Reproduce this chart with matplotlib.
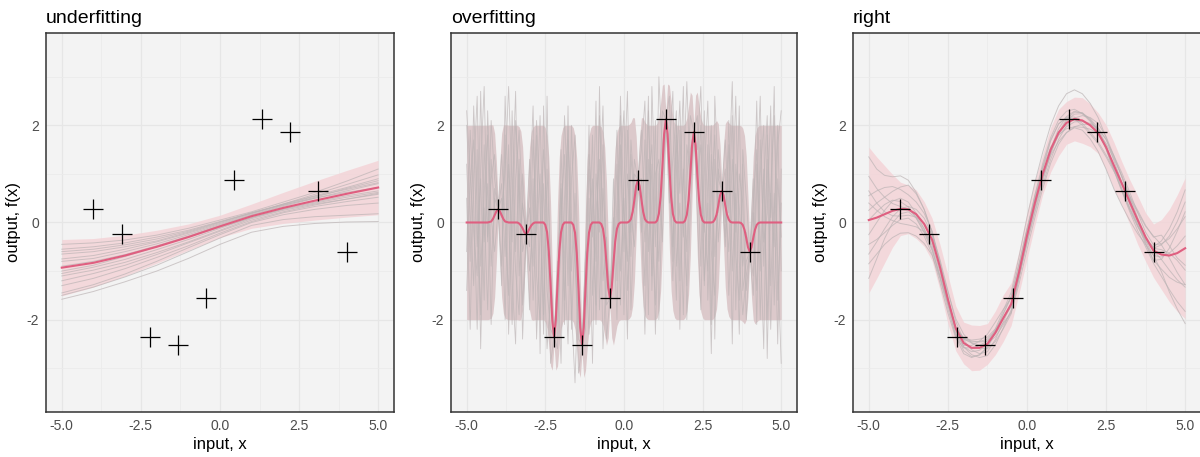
import numpy as np
import matplotlib
matplotlib.use("Agg")
import matplotlib.pyplot as plt

plt.rcParams['font.family'] = ['Liberation Sans', 'DejaVu Sans']
plt.rcParams['axes.unicode_minus'] = False

# observed training points
obs_x = [-4.0, -3.11, -2.22, -1.33, -0.44, 0.44, 1.33, 2.22, 3.11, 4.0]
obs_y = [0.27, -0.23, -2.35, -2.52, -1.56, 0.87, 2.12, 1.86, 0.65, -0.6]

panel_titles = ["underfitting", "overfitting", "right"]
x_ticks = [-5.0, -2.5, 0.0, 2.5, 5.0]
x_tick_labels = ["-5.0", "-2.5", "0.0", "2.5", "5.0"]
y_ticks = [-2, 0, 2]
y_tick_labels = ["-2", "0", "2"]

# ---- underfitting: long length scale, almost straight posterior
under_x = [-5, -4, -3, -2, -1, 0, 1, 2, 3, 4, 5]
under_mean = [-0.93, -0.83, -0.68, -0.5, -0.3, -0.08, 0.13, 0.3, 0.45, 0.59, 0.72]
under_band = [0.58, 0.5, 0.42, 0.34, 0.27, 0.23, 0.25, 0.32, 0.4, 0.48, 0.56]
under_samples = [
    [-0.55, -0.5, -0.42, -0.3, -0.16, 0.02, 0.2, 0.38, 0.55, 0.72, 0.9],
    [-1.3, -1.15, -0.95, -0.72, -0.48, -0.22, 0.02, 0.2, 0.33, 0.43, 0.52],
    [-0.75, -0.68, -0.55, -0.4, -0.22, -0.02, 0.18, 0.38, 0.58, 0.78, 0.98],
    [-1.1, -0.98, -0.82, -0.62, -0.4, -0.16, 0.08, 0.25, 0.38, 0.48, 0.58],
    [-0.45, -0.42, -0.36, -0.26, -0.12, 0.05, 0.22, 0.42, 0.62, 0.85, 1.1],
    [-1.45, -1.28, -1.06, -0.8, -0.52, -0.25, 0.0, 0.16, 0.27, 0.35, 0.4],
    [-0.9, -0.8, -0.66, -0.48, -0.28, -0.06, 0.15, 0.33, 0.5, 0.65, 0.8],
    [-1.0, -0.88, -0.7, -0.5, -0.3, -0.1, 0.1, 0.28, 0.42, 0.55, 0.65],
    [-0.65, -0.6, -0.5, -0.38, -0.2, 0.0, 0.2, 0.36, 0.5, 0.62, 0.72],
    [-1.2, -1.05, -0.88, -0.66, -0.42, -0.18, 0.05, 0.22, 0.36, 0.48, 0.6],
    [-0.8, -0.74, -0.6, -0.44, -0.25, -0.04, 0.16, 0.35, 0.52, 0.7, 0.86],
    [-1.05, -0.92, -0.76, -0.56, -0.35, -0.12, 0.1, 0.27, 0.4, 0.52, 0.62],
    [-0.6, -0.55, -0.46, -0.34, -0.18, 0.01, 0.19, 0.37, 0.54, 0.68, 0.82],
    [-1.58, -1.42, -1.22, -1.0, -0.74, -0.45, -0.2, -0.08, -0.02, 0.01, 0.02],
    [-1.5, -1.33, -1.12, -0.88, -0.6, -0.32, -0.06, 0.06, 0.12, 0.15, 0.18],
]

# ---- overfitting: tiny length scale, mean falls back to zero between points
over_x = np.linspace(-5, 5, 181)
over_mean = ([0.0] * 13
             + [0.01, 0.02, 0.07, 0.15, 0.23, 0.27, 0.23, 0.15, 0.07, 0.02, 0.01] + [0.0] * 5
             + [0.0, -0.02, -0.06, -0.12, -0.2, -0.23, -0.2, -0.12, -0.06, -0.02, 0.0] + [0.0] * 5
             + [-0.05, -0.2, -0.59, -1.27, -2.01, -2.35, -2.01, -1.27, -0.59, -0.2, -0.05] + [0.0] * 5
             + [-0.05, -0.21, -0.63, -1.36, -2.16, -2.52, -2.16, -1.36, -0.63, -0.21, -0.05] + [0.0] * 5
             + [-0.03, -0.13, -0.39, -0.84, -1.34, -1.56, -1.34, -0.84, -0.39, -0.13, -0.03] + [0.0] * 5
             + [0.02, 0.07, 0.22, 0.47, 0.75, 0.87, 0.75, 0.47, 0.22, 0.07, 0.02] + [0.0] * 5
             + [0.04, 0.18, 0.53, 1.14, 1.82, 2.12, 1.82, 1.14, 0.53, 0.18, 0.04] + [0.0] * 5
             + [0.04, 0.16, 0.46, 1.0, 1.59, 1.86, 1.59, 1.0, 0.46, 0.16, 0.04] + [0.0] * 5
             + [0.01, 0.06, 0.16, 0.35, 0.56, 0.65, 0.56, 0.35, 0.16, 0.06, 0.01] + [0.0] * 5
             + [-0.01, -0.05, -0.15, -0.32, -0.51, -0.6, -0.51, -0.32, -0.15, -0.05, -0.01]
             + [0.0] * 13)
# posterior sd around one training point
over_pinch = [1.0, 0.996, 0.969, 0.842, 0.515, 0.08, 0.515, 0.842, 0.969, 0.996, 1.0]
over_sd = [1.0] * 13 + (over_pinch + [1.0] * 5) * 9 + over_pinch + [1.0] * 13

over_sample_x = np.linspace(-5, 5, 91)
over_samples = [
    [1.2, -0.8, 2.4, 0.3, -1.9, 1.6, -0.4, 2.1, 0.9, 0.27,
     -0.9, 1.8, -2.3, 0.6, 2.7, -1.1, 0.4, -0.23,
     1.3, -1.6, 0.2, 2.2, -0.7, -2.6, -1.5, -2.35,
     -1.2, 0.8, -2.1, 1.7, 0.1, -0.9, -2.0, -2.52,
     -1.4, 1.1, -0.3, 2.5, -1.8, 0.7, -0.6, -1.56,
     -0.2, 1.9, -1.0, 0.5, -2.4, 1.4, 0.3, 0.87,
     0.6, -1.3, 2.3, 0.0, -1.7, 1.0, 1.6, 2.12,
     1.0, -0.5, 1.8, -2.2, 0.9, 2.9, 0.8, 1.86,
     0.7, 2.0, -1.2, 0.4, -2.7, 1.3, 0.2, 0.65,
     1.1, -1.5, 0.3, 2.6, -0.8, -1.9, -1.1, -0.6,
     0.4, 1.5, -2.0, 0.8, 2.2, -1.3, 0.6, -2.5, 1.1],
    [-0.6, 1.9, 0.4, -2.2, 1.1, 2.8, -0.3, 0.9, 1.4, 0.27,
     0.5, -2.0, 1.2, -0.4, 2.1, 0.8, -1.7, -0.23,
     -1.8, 0.9, -2.4, -0.2, 1.5, 0.3, -2.9, -2.35,
     -2.6, 0.2, 1.4, -1.3, 2.0, -0.5, -3.1, -2.52,
     -1.9, -0.4, 1.8, -2.1, 0.6, 2.4, -0.9, -1.56,
     0.9, -1.2, 2.6, 0.2, -0.8, 1.7, 0.6, 0.87,
     1.5, 2.5, -0.6, 1.2, -2.3, 0.4, 2.3, 2.12,
     2.6, 0.3, -1.6, 1.9, -0.3, 0.8, 2.2, 1.86,
     1.2, -0.9, 2.3, -1.6, 0.5, 1.8, -0.4, 0.65,
     -0.3, 2.1, -1.0, 0.6, -2.3, 1.2, -1.4, -0.6,
     -1.5, 0.7, 2.6, -0.9, 1.3, -2.2, 0.2, 2.0, -1.0],
    [2.0, 0.2, -1.3, 1.5, -2.6, 0.6, 1.8, -0.9, 0.5, 0.27,
     1.4, 0.0, -1.5, 2.3, -0.6, 1.0, -2.4, -0.23,
     0.6, 2.4, -1.1, -2.0, 0.8, -1.4, -2.2, -2.35,
     -0.8, -2.9, 0.5, 1.9, -1.0, 0.6, -1.6, -2.52,
     -0.7, 2.0, -1.5, 0.2, 1.3, -2.6, -1.0, -1.56,
     -1.1, 0.4, 2.2, -1.9, 1.0, -0.2, 1.3, 0.87,
     -0.2, 1.7, -1.9, 2.8, 0.5, -0.8, 1.1, 2.12,
     1.5, 2.7, -0.9, 0.4, -1.9, 1.6, 0.9, 1.86,
     0.2, -1.8, 1.0, 2.5, -0.6, -1.5, 1.1, 0.65,
     0.0, 1.6, -2.5, 1.2, 0.3, -0.9, -0.2, -0.6,
     0.9, -2.1, 1.7, -0.4, 0.2, 2.4, -1.7, 0.9, -0.3],
    [-1.4, 0.8, 1.7, -0.5, 0.9, -1.6, 2.3, 0.1, -0.6, 0.27,
     -1.3, 2.6, 0.1, -2.1, 0.9, 1.9, 0.3, -0.23,
     0.3, -0.9, 1.8, -2.7, 2.4, -0.6, -1.1, -2.35,
     -1.7, 1.5, -0.7, -2.5, 0.9, 1.8, -1.4, -2.52,
     -2.2, 0.5, -2.9, 1.0, -0.2, 1.6, -1.7, -1.56,
     0.1, -2.0, 1.1, 2.3, -1.4, 0.2, -0.5, 0.87,
     0.9, -0.4, 1.3, -1.1, 2.1, -2.0, 0.7, 2.12,
     0.4, 1.3, 2.3, -1.2, 1.1, -0.6, 1.5, 1.86,
     2.2, 0.4, -0.2, 1.6, -2.1, 2.6, 0.9, 0.65,
     1.7, 0.2, 2.2, -1.8, 1.0, 0.4, -2.0, -0.6,
     -1.1, 1.2, -0.3, -2.6, 1.8, 0.1, 2.8, -1.6, 0.4],
    [0.5, -2.2, 1.0, 2.6, -0.9, 0.3, -1.8, 1.3, 0.2, 0.27,
     0.8, -0.7, 1.6, -1.2, -2.5, 1.3, -0.6, -0.23,
     -0.5, 1.7, -0.2, 1.0, -1.9, 2.6, -1.6, -2.35,
     -2.0, -0.4, 2.2, 0.3, -1.8, -3.3, -1.1, -2.52,
     -0.6, -2.3, 0.9, -0.8, 2.2, 0.1, -2.4, -1.56,
     -0.6, 1.2, -1.7, 0.8, 2.7, -0.7, 1.0, 0.87,
     0.2, -2.3, 0.8, 1.6, -0.5, 3.0, 1.4, 2.12,
     0.8, -1.2, 1.0, 2.5, 0.0, -1.3, 1.2, 1.86,
     1.5, 2.8, 0.0, -1.0, 1.4, -0.7, 0.6, 0.65,
     0.4, -0.6, 1.3, -0.2, 2.4, -1.4, -0.8, -0.6,
     0.2, -1.4, 1.0, 2.0, -2.8, 0.6, -0.5, 1.6, 2.3],
    [2.3, 1.0, -0.2, -1.1, 2.7, -0.4, 0.8, -2.1, 0.7, 0.27,
     0.1, 1.1, 2.8, 0.7, -1.0, -1.9, 1.0, -0.23,
     -1.0, -0.1, 2.1, 0.4, -2.3, 1.1, -0.8, -2.35,
     -1.3, 0.7, -1.6, 2.4, -2.2, -0.2, -2.4, -2.52,
     -1.1, 1.4, 0.3, -1.7, 2.8, -1.2, -0.3, -1.56,
     -0.9, -0.1, 1.6, -0.6, 1.9, -1.8, 0.2, 0.87,
     1.9, 0.0, 2.6, -1.4, 1.0, 1.3, -0.4, 2.12,
     1.9, -0.8, 2.1, 0.6, 2.8, -2.0, 0.3, 1.86,
     0.9, 1.6, -1.3, 0.8, 2.0, -2.4, 1.5, 0.65,
     -0.5, 0.9, 2.9, -0.7, -1.6, 1.5, 0.5, -0.6,
     -0.2, 2.5, -1.0, 1.1, -2.0, 0.7, 2.2, -0.8, -2.9],
]

# ---- right: sensible length scale
right_x = np.linspace(-5, 5, 41)
right_mean = [0.05, 0.10, 0.17, 0.24, 0.28, 0.27, 0.17, -0.03, -0.35, -0.92,
              -1.58, -2.18, -2.48, -2.58, -2.58, -2.5, -2.27, -1.97, -1.68, -1.02,
              -0.28, 0.4, 1.0, 1.5, 1.85, 2.05, 2.13, 2.1, 2.0, 1.84,
              1.55, 1.17, 0.8, 0.42, 0.05, -0.3, -0.58, -0.66, -0.68, -0.63,
              -0.53]
right_band = [1.5, 1.25, 1.0, 0.75, 0.55, 0.5, 0.5, 0.46, 0.44, 0.47,
              0.5, 0.46, 0.43, 0.47, 0.46, 0.42, 0.45, 0.48, 0.44, 0.44,
              0.48, 0.46, 0.42, 0.46, 0.48, 0.44, 0.45, 0.47, 0.44, 0.42,
              0.46, 0.48, 0.45, 0.46, 0.5, 0.5, 0.55, 0.72, 0.95, 1.2,
              1.45]
# sample paths stored as residuals around the posterior mean
right_resid = [
    [0.9, 0.6, 0.35, 0.15, 0.05, 0.0, -0.05, -0.1, -0.12, -0.1, -0.05, 0.02, 0.08, 0.12,
     0.13, 0.1, 0.05, 0.0, -0.05, -0.08, -0.1, -0.08, -0.04, 0.02, 0.08, 0.13, 0.16, 0.15,
     0.1, 0.04, -0.02, -0.08, -0.12, -0.14, -0.12, -0.05, 0.05, 0.2, 0.4, 0.65, 0.95],
    [-1.2, -0.85, -0.5, -0.25, -0.1, -0.05, -0.08, -0.15, -0.2, -0.18, -0.1, 0.0, 0.1, 0.16,
     0.18, 0.14, 0.08, 0.02, -0.04, -0.1, -0.14, -0.16, -0.14, -0.08, 0.0, 0.08, 0.14, 0.16,
     0.12, 0.05, -0.03, -0.1, -0.16, -0.2, -0.22, -0.2, -0.26, -0.45, -0.7, -1.0, -1.3],
    [0.2, 0.3, 0.35, 0.4, 0.45, 0.5, 0.42, 0.3, 0.15, 0.02, -0.1, -0.18, -0.22, -0.2,
     -0.14, -0.06, 0.02, 0.1, 0.16, 0.18, 0.15, 0.1, 0.04, -0.02, -0.06, -0.08, -0.06, -0.02,
     0.04, 0.1, 0.16, 0.2, 0.22, 0.2, 0.15, 0.1, 0.12, 0.22, 0.35, 0.5, 0.65],
    [-0.5, -0.45, -0.38, -0.3, -0.22, -0.18, -0.2, -0.25, -0.3, -0.32, -0.28, -0.2, -0.1, 0.0,
     0.05, 0.06, 0.04, 0.0, -0.05, -0.1, -0.15, -0.2, -0.22, -0.2, -0.14, -0.06, 0.02, 0.1,
     0.16, 0.2, 0.22, 0.2, 0.14, 0.06, -0.02, -0.08, -0.1, -0.05, 0.05, 0.15, 0.25],
    [0.5, 0.55, 0.55, 0.5, 0.4, 0.3, 0.25, 0.22, 0.18, 0.12, 0.05, -0.02, -0.08, -0.14,
     -0.2, -0.24, -0.25, -0.2, -0.12, -0.02, 0.08, 0.16, 0.22, 0.25, 0.26, 0.24, 0.2, 0.14,
     0.08, 0.02, -0.04, -0.1, -0.14, -0.16, -0.14, -0.08, 0.0, -0.1, -0.3, -0.55, -0.8],
    [-0.3, -0.1, 0.08, 0.2, 0.22, 0.15, 0.02, -0.1, -0.18, -0.22, -0.2, -0.14, -0.05, 0.05,
     0.14, 0.2, 0.22, 0.18, 0.12, 0.05, -0.02, -0.08, -0.1, -0.08, -0.03, 0.04, 0.1, 0.14,
     0.14, 0.1, 0.04, -0.04, -0.1, -0.12, -0.1, -0.04, 0.08, 0.28, 0.55, 0.85, 1.2],
    [1.3, 1.0, 0.8, 0.7, 0.68, 0.6, 0.45, 0.3, 0.15, 0.05, 0.0, -0.05, -0.08, -0.08,
     -0.05, 0.0, 0.08, 0.16, 0.24, 0.32, 0.38, 0.42, 0.45, 0.5, 0.55, 0.6, 0.6, 0.55,
     0.45, 0.32, 0.2, 0.1, 0.02, -0.05, -0.1, -0.15, -0.2, -0.3, -0.45, -0.6, -0.75],
    [-0.9, -0.75, -0.62, -0.55, -0.5, -0.48, -0.45, -0.4, -0.32, -0.22, -0.1, 0.02, 0.1, 0.14,
     0.12, 0.06, -0.02, -0.1, -0.18, -0.24, -0.28, -0.3, -0.3, -0.28, -0.24, -0.2, -0.18, -0.2,
     -0.28, -0.38, -0.45, -0.48, -0.45, -0.38, -0.28, -0.15, -0.1, -0.35, -0.75, -1.15, -1.55],
    [0.0, 0.12, 0.2, 0.22, 0.15, 0.05, -0.08, -0.18, -0.22, -0.18, -0.1, 0.0, 0.08, 0.1,
     0.06, 0.0, -0.08, -0.14, -0.16, -0.12, -0.05, 0.04, 0.12, 0.18, 0.18, 0.12, 0.04, -0.06,
     -0.14, -0.18, -0.16, -0.08, 0.02, 0.12, 0.2, 0.24, 0.28, 0.4, 0.2, -0.1, -0.35],
    [0.6, 0.3, 0.05, -0.1, -0.15, -0.12, -0.06, 0.02, 0.1, 0.16, 0.18, 0.14, 0.06, -0.04,
     -0.12, -0.16, -0.14, -0.08, 0.0, 0.08, 0.14, 0.16, 0.12, 0.05, -0.04, -0.12, -0.16, -0.14,
     -0.08, 0.0, 0.08, 0.14, 0.16, 0.12, 0.05, 0.0, 0.05, 0.1, 0.05, -0.15, -0.45],
    [-0.7, -0.5, -0.3, -0.12, 0.0, 0.06, 0.1, 0.12, 0.1, 0.05, -0.02, -0.1, -0.16, -0.18,
     -0.15, -0.08, 0.0, 0.08, 0.14, 0.16, 0.12, 0.04, -0.05, -0.12, -0.18, -0.2, -0.16, -0.08,
     0.02, 0.1, 0.16, 0.18, 0.14, 0.06, -0.04, -0.12, -0.2, -0.1, 0.15, 0.45, 0.75],
    [0.35, 0.15, -0.05, -0.2, -0.3, -0.32, -0.26, -0.16, -0.04, 0.08, 0.16, 0.2, 0.18, 0.1,
     0.0, -0.1, -0.18, -0.22, -0.2, -0.12, -0.02, 0.08, 0.16, 0.2, 0.18, 0.1, 0.0, -0.1,
     -0.18, -0.22, -0.2, -0.12, -0.02, 0.08, 0.16, 0.22, 0.3, 0.2, -0.05, -0.4, -0.75],
]

PANEL_BG = "#f3f3f3"
MEAN_COL = "#df5f80"
LINE_COL = "#bcb4b5"
BAND_COL = "#f3d2d6"


def style_panel(ax, title):
    ax.set_facecolor(PANEL_BG)
    ax.set_xlim(-5.5, 5.5)
    ax.set_ylim(-3.9, 3.9)
    ax.set_xticks(x_ticks)
    ax.set_xticklabels(x_tick_labels)
    ax.set_yticks(y_ticks)
    ax.set_yticklabels(y_tick_labels)
    ax.set_xticks([-3.75, -1.25, 1.25, 3.75], minor=True)
    ax.set_yticks([-3, -1, 1, 3], minor=True)
    ax.grid(which="major", color="#e6e6e6", lw=0.9)
    ax.grid(which="minor", color="#ebebeb", lw=0.6)
    ax.set_axisbelow(True)
    ax.tick_params(which="both", length=0, labelsize=10, labelcolor="#4d4d4d", pad=5)
    for sp in ax.spines.values():
        sp.set_color("#333333")
        sp.set_linewidth(1.1)
    ax.set_title(title, loc="left", fontsize=14, pad=7)
    ax.set_xlabel("input, x", fontsize=12, labelpad=3)
    ax.set_ylabel("output, f(x)", fontsize=12, labelpad=4)


def draw_points(ax):
    ax.plot(obs_x, obs_y, ls="none", marker="+", ms=15, mew=0.9, color="black", zorder=6)


fig = plt.figure(figsize=(12, 4.57), dpi=100)
ax1 = fig.add_axes([0.0383, 0.0985, 0.29, 0.8293])
ax2 = fig.add_axes([0.3758, 0.0985, 0.2883, 0.8293])
ax3 = fig.add_axes([0.7108, 0.0985, 0.29, 0.8293])

# underfitting
m = np.array(under_mean)
b = np.array(under_band)
ax1.fill_between(under_x, m - b, m + b, color=BAND_COL, alpha=0.8, lw=0, zorder=2)
for s in under_samples:
    ax1.plot(under_x, s, color=LINE_COL, lw=0.7, alpha=0.7, zorder=3)
ax1.plot(under_x, under_mean, color=MEAN_COL, lw=1.5, zorder=4)
draw_points(ax1)
style_panel(ax1, panel_titles[0])

# overfitting
m = np.array(over_mean)
sd = np.array(over_sd)
ax2.fill_between(over_x, m - 2 * sd, m + 2 * sd, color="#dac5c7", alpha=0.9, lw=0, zorder=2)
for s in over_samples:
    ax2.plot(over_sample_x, s, color=LINE_COL, lw=0.6, alpha=0.7, zorder=3)
ax2.plot(over_x, over_mean, color=MEAN_COL, lw=1.5, zorder=4)
draw_points(ax2)
style_panel(ax2, panel_titles[1])

# right
m = np.array(right_mean)
b = np.array(right_band)
ax3.fill_between(right_x, m - b, m + b, color=BAND_COL, alpha=0.8, lw=0, zorder=2)
for r in right_resid:
    ax3.plot(right_x, m + np.array(r), color=LINE_COL, lw=0.7, alpha=0.7, zorder=3)
ax3.plot(right_x, right_mean, color=MEAN_COL, lw=1.5, zorder=4)
draw_points(ax3)
style_panel(ax3, panel_titles[2])

fig.savefig("out.png", dpi=100)
